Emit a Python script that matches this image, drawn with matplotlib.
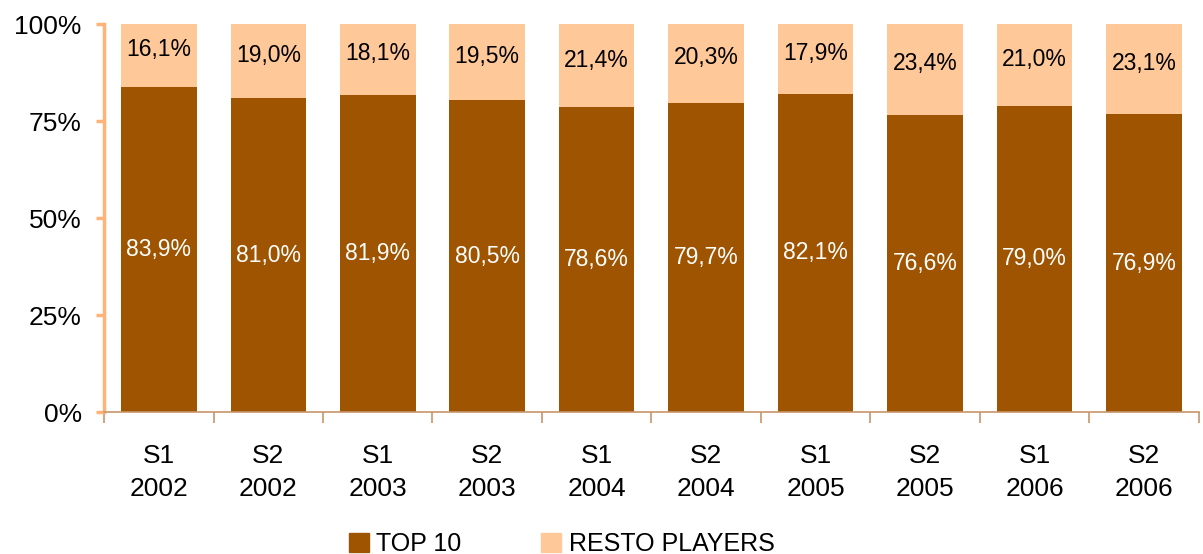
import matplotlib
matplotlib.use("Agg")
import matplotlib.pyplot as plt
from matplotlib.patches import Patch

plt.rcParams["font.family"] = ["Liberation Sans", "DejaVu Sans"]

periods = ["S1\n2002", "S2\n2002", "S1\n2003", "S2\n2003", "S1\n2004",
           "S2\n2004", "S1\n2005", "S2\n2005", "S1\n2006", "S2\n2006"]
top10 = [83.9, 81.0, 81.9, 80.5, 78.6, 79.7, 82.1, 76.6, 79.0, 76.9]
resto = [16.1, 19.0, 18.1, 19.5, 21.4, 20.3, 17.9, 23.4, 21.0, 23.1]
y_ticks = [0, 25, 50, 75, 100]

dark = "#9E5400"
light = "#FFC899"

fig = plt.figure(figsize=(12.03, 5.54), dpi=100)
ax = fig.add_axes([0.0865, 0.256, 0.91, 0.70])

x = list(range(len(periods)))
ax.bar(x, top10, width=0.69, color=dark, label="TOP 10")
ax.bar(x, resto, width=0.69, bottom=top10, color=light, label="RESTO PLAYERS")

for i, (a, b) in enumerate(zip(top10, resto)):
    ax.text(i, a / 2, f"{a:.1f}%".replace(".", ","), ha="center", va="center",
            color="white", fontsize=16.5)
    ax.text(i, a + b / 2 + 1.5, f"{b:.1f}%".replace(".", ","), ha="center",
            va="center", color="black", fontsize=16.5)

ax.set_xlim(-0.5, len(periods) - 0.5)
ax.set_ylim(0, 100)
ax.set_yticks(y_ticks)
ax.set_yticklabels([f"{v}%" for v in y_ticks], fontsize=19)

ax.set_xticks(x)
ax.set_xticklabels(periods, fontsize=19, linespacing=1.45)
ax.tick_params(axis="x", length=0, pad=23)
ax.set_xticks([i - 0.5 for i in range(len(periods) + 1)], minor=True)
ax.tick_params(axis="x", which="minor", length=8, color="#C8956A", width=1.2)

ax.tick_params(axis="y", length=6, width=2.5, color="#FFB378", pad=10)

for s in ["top", "right"]:
    ax.spines[s].set_visible(False)
ax.spines["left"].set_color("#FFB378")
ax.spines["left"].set_linewidth(2.5)
ax.spines["bottom"].set_color("#C8956A")
ax.spines["bottom"].set_linewidth(1.2)

handles = [Patch(color=dark, label="TOP 10"), Patch(color=light, label="RESTO PLAYERS")]
fig.legend(handles=handles, loc="lower left", bbox_to_anchor=(0.271, -0.045),
           ncol=2, frameon=False, fontsize=18, handlelength=0.8, handleheight=0.8,
           handletextpad=0.3, columnspacing=3.2)

fig.savefig("out.png", dpi=100)
